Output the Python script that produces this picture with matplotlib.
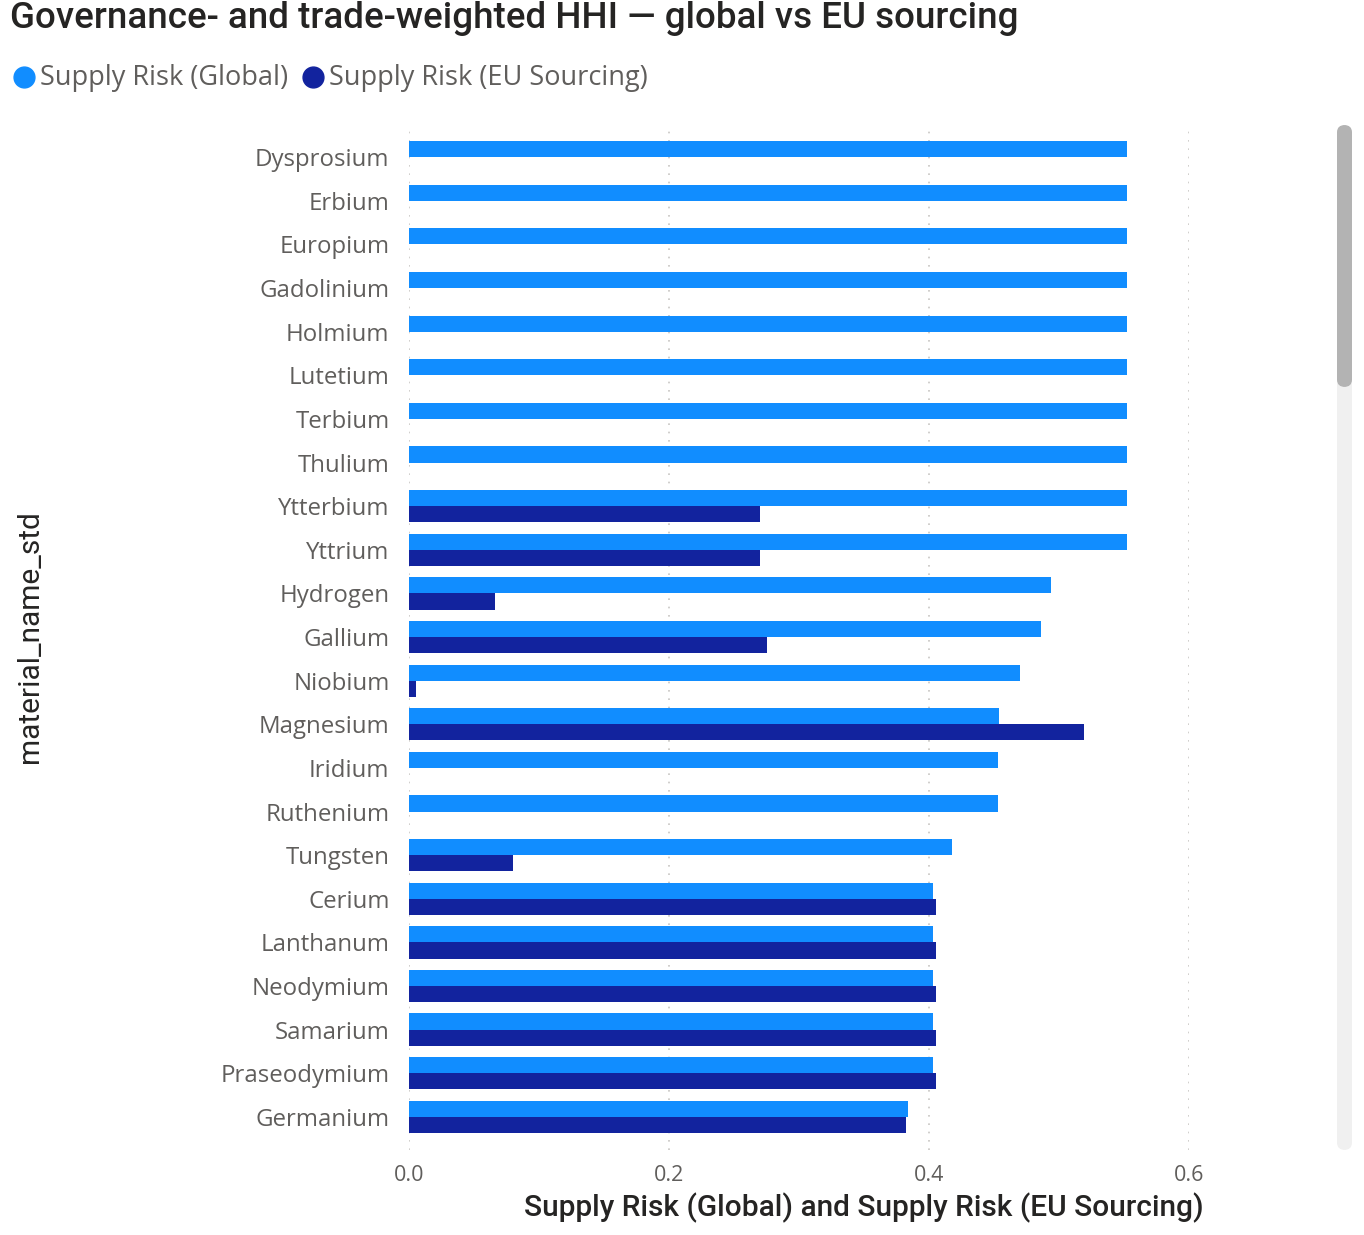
import matplotlib.pyplot as plt
import numpy as np
from matplotlib.patches import FancyBboxPatch
from matplotlib.lines import Line2D

materials = ['Dysprosium', 'Erbium', 'Europium', 'Gadolinium', 'Holmium', 'Lutetium',
             'Terbium', 'Thulium', 'Ytterbium', 'Yttrium', 'Hydrogen', 'Gallium',
             'Niobium', 'Magnesium', 'Iridium', 'Ruthenium', 'Tungsten', 'Cerium',
             'Lanthanum', 'Neodymium', 'Samarium', 'Praseodymium', 'Germanium']
risk_global = [0.552, 0.552, 0.552, 0.552, 0.552, 0.552, 0.552, 0.552, 0.552, 0.552,
               0.494, 0.486, 0.470, 0.454, 0.453, 0.453, 0.418, 0.403, 0.403, 0.403,
               0.403, 0.403, 0.384]
risk_eu = [np.nan, np.nan, np.nan, np.nan, np.nan, np.nan, np.nan, np.nan, 0.270, 0.270,
           0.066, 0.275, 0.0055, 0.519, np.nan, np.nan, 0.080, 0.405, 0.405, 0.405,
           0.405, 0.405, 0.382]
xticks = [0.0, 0.2, 0.4, 0.6]

c_global = '#118DFF'
c_eu = '#12239E'
gray = '#605E5C'
dark = '#252423'
font = ['Open Sans', 'DejaVu Sans']
font_title = ['Roboto', 'DejaVu Sans']

W, H = 1364, 1235
fig = plt.figure(figsize=(W / 100, H / 100), dpi=100)
ax = fig.add_axes([409 / W, 1 - 1150 / H, (1189 - 409) / W, 1020 / H])

y = np.arange(len(materials))
bh = 0.37
ax.barh(y - bh / 2, risk_global, height=bh, color=c_global, zorder=3)
ax.barh(y + bh / 2, risk_eu, height=bh, color=c_eu, zorder=3)

ax.set_xlim(0, 0.6)
ax.set_ylim(21.76 + 1, -0.625)
ax.set_yticks(y)
ax.set_yticklabels(materials, family=font, fontsize=17.3, color=gray)
ax.set_xticks(xticks)
ax.set_xticklabels(['%.1f' % v for v in xticks], family=font, fontsize=15.5, color=gray)
ax.tick_params(axis='x', length=0, pad=11)
ax.tick_params(axis='y', length=0, pad=14)
for s in ax.spines.values():
    s.set_visible(False)
ax.grid(axis='x', color='#C8C6C4', linestyle=(0, (1, 4)), linewidth=1.2, zorder=0)

fig.text(864 / W, 1 - 1208 / H, 'Supply Risk (Global) and Supply Risk (EU Sourcing)',
         ha='center', va='center', family=font_title, fontsize=21.5, weight='medium', color=dark)
fig.text(30 / W, 1 - 637 / H, 'material_name_std', rotation=90, ha='center', va='center',
         family=font_title, fontsize=21.5, color=dark)

fig.text(10 / W, 1 - 18 / H, 'Governance- and trade-weighted HHI \u2014 global vs EU sourcing',
         ha='left', va='center', family=font_title, fontsize=26.5, weight='medium', color=dark)

# legend
for cx, tx, label, col in [(24, 40, 'Supply Risk (Global)', c_global),
                           (313, 329, 'Supply Risk (EU Sourcing)', c_eu)]:
    fig.add_artist(Line2D([cx / W], [1 - 77 / H], marker='o', markersize=15,
                          color=col, transform=fig.transFigure))
    fig.text(tx / W, 1 - 78 / H, label, ha='left', va='center', family=font,
             fontsize=19.5, color=gray)

# scrollbar
fig.add_artist(FancyBboxPatch((1337 / W, 1 - 1150 / H), 15 / W, 1025 / H,
                              boxstyle='round,pad=0,rounding_size=0.006',
                              transform=fig.transFigure, color='#F0F0F0', lw=0))
fig.add_artist(FancyBboxPatch((1337 / W, 1 - 387 / H), 15 / W, 262 / H,
                              boxstyle='round,pad=0,rounding_size=0.006',
                              transform=fig.transFigure, color='#B3B3B3', lw=0))

fig.savefig('out.png', dpi=100)
